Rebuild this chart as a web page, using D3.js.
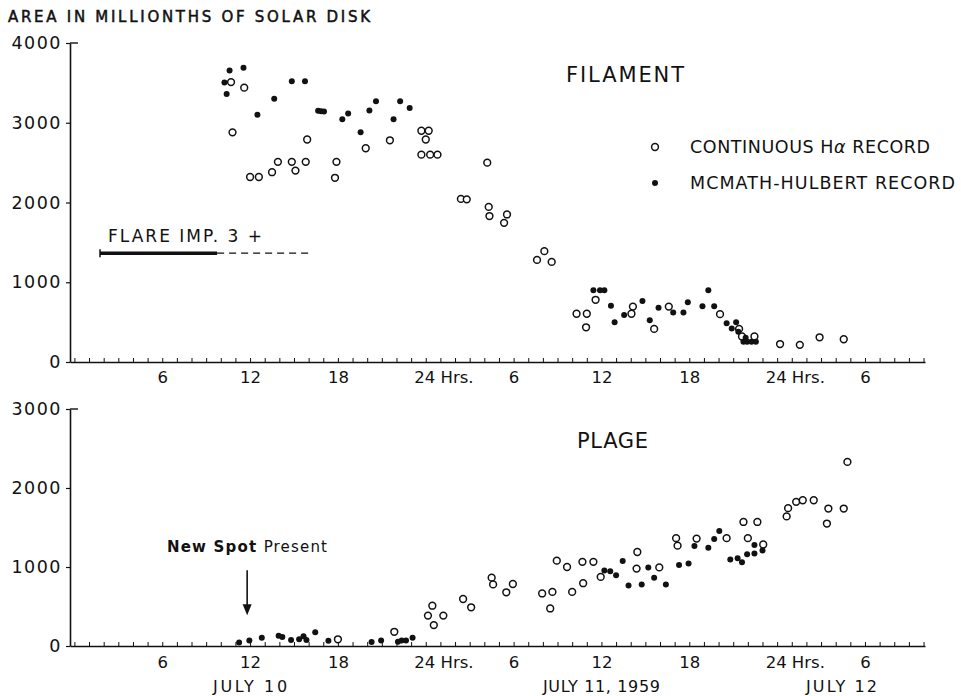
<!DOCTYPE html>
<html>
<head>
<meta charset="utf-8">
<script src="https://cdn.jsdelivr.net/npm/d3@7"></script>
<style>
  body { margin: 0; background: #fff; }
  text { font-family: "DejaVu Sans", sans-serif; fill: #111; }
</style>
</head>
<body>
<svg width="961" height="696"></svg>
<script>
// time axis is hours counted from 0h July 10, 1959
var hourTicks = [6, 12, 18, 24, 30, 36, 42, 48, 54];
var hourLabels = ["6", "12", "18", "24 Hrs.", "6", "12", "18", "24 Hrs.", "6"];
var dayLabels = ["JULY 10", "JULY 11, 1959", "JULY 12"];
var dayCenters = [12, 36, 52.4];
var filamentTicks = [0, 1000, 2000, 3000, 4000];
var plageTicks = [0, 1000, 2000, 3000];

// [hour, area in millionths of solar disk]
var filamentHalpha = [
  [10.7,3510],[10.8,2880],[11.6,3440],[12.0,2320],[12.6,2320],[13.5,2380],[13.9,2510],
  [14.85,2510],[15.1,2400],[15.8,2510],[15.9,2790],[17.8,2310],[17.9,2510],[19.9,2680],
  [21.55,2780],[23.7,2900],[24.2,2900],[24.0,2790],[23.7,2600],[24.3,2600],[24.8,2600],
  [26.4,2045],[26.8,2040],[28.2,2500],[28.3,1945],[28.35,1830],[29.55,1850],[29.35,1745],
  [31.6,1280],[32.1,1390],[32.6,1255],[34.3,605],[35.0,605],[34.95,435],[35.6,780],
  [38.15,695],[38.05,605],[39.6,415],[40.6,695],[44.1,600],[45.4,415],[45.6,320],
  [46.45,320],[48.2,225],[49.55,215],[50.9,310],[52.55,285]
];
var filamentMcMath = [
  [10.25,3505],[10.4,3360],[10.6,3655],[11.55,3690],[12.5,3100],[13.65,3300],[14.85,3520],
  [15.75,3520],[16.65,3150],[16.85,3145],[17.05,3140],[18.3,3045],[18.7,3115],[19.55,2880],
  [20.15,3155],[20.6,3270],[21.8,3045],[22.25,3270],[22.9,3185],
  [35.45,900],[35.9,900],[36.2,900],[36.65,705],[36.9,500],[37.55,590],[38.8,765],
  [39.3,525],[39.9,680],[40.9,620],[41.6,620],[41.9,750],[42.9,700],[43.3,900],[43.7,700],
  [44.55,485],[44.9,420],[45.2,500],[45.35,380],[45.7,255],[45.85,305],[45.95,255],
  [46.25,255],[46.55,255]
];
var plageHalpha = [
  [18.0,85],[21.85,180],[24.15,385],[24.45,510],[24.55,265],[25.2,385],[26.55,595],
  [27.1,490],[28.5,865],[28.6,780],[29.5,680],[29.95,785],[31.95,665],[32.5,475],
  [32.65,685],[32.95,1080],[33.65,1000],[34.0,685],[34.7,1065],[34.75,795],[35.45,1065],
  [35.95,875],[38.45,1190],[38.4,980],[39.95,995],[41.1,1365],[41.2,1270],[42.5,1360],
  [44.55,1365],[45.7,1570],[46.65,1570],[46.0,1365],[47.05,1285],[48.65,1640],[48.75,1745],
  [49.3,1825],[49.75,1845],[50.5,1845],[51.5,1740],[52.55,1740],[51.4,1550],[52.8,2330]
];
var plageMcMath = [
  [11.25,45],[11.95,70],[12.8,105],[13.95,130],[14.2,115],[14.8,75],[15.35,85],[15.65,125],
  [15.85,75],[16.45,175],[17.35,65],[20.3,50],[20.95,70],[22.1,55],[22.35,70],[22.65,70],
  [23.1,105],[36.2,955],[36.6,945],[37.0,895],[37.45,1075],[37.85,765],[38.75,780],
  [39.2,995],[39.6,865],[40.4,780],[41.3,1025],[41.95,1045],[42.35,1265],[43.3,1245],
  [43.7,1355],[44.05,1455],[44.8,1095],[45.3,1110],[45.6,1060],[45.95,1160],[46.45,1170],
  [46.45,1280],[47.0,1210]
];

// annotations
var flareSolid = [1.75, 9.75];
var flareDashed = [9.75, 16.3];
var flareLevel = 1365;
var newSpotHour = 11.8;
var newSpotArrow = [960, 390];

var svg = d3.select("svg");

var x = d3.scaleLinear().domain([-0.3, 58.1]).range([70, 925]);
var yF = d3.scaleLinear().domain([0, 4000]).range([362, 43]);
var yP = d3.scaleLinear().domain([0, 3000]).range([646, 409]);

function drawPanel(y, yTicks, openPts, filledPts, labelPad) {
  var base = y.range()[0];

  // hourly ticks + axis line
  var tg = svg.append("g")
    .attr("transform", "translate(0," + base + ")")
    .call(d3.axisBottom(x).tickValues(d3.range(0, 59)).tickSize(-4).tickSizeOuter(0).tickFormat(""));
  tg.select(".domain").attr("stroke", "#111").attr("stroke-width", 1.6);
  tg.selectAll(".tick line").attr("stroke", "#111").attr("stroke-width", 1);

  // hour labels
  var lg = svg.append("g")
    .attr("transform", "translate(0," + base + ")")
    .call(d3.axisBottom(x).tickValues(hourTicks).tickSize(0).tickPadding(labelPad)
      .tickFormat(function(d, i) { return hourLabels[i]; }));
  lg.select(".domain").remove();
  lg.selectAll("text")
    .attr("font-size", 16.5)
    .attr("font-family", "DejaVu Sans")
    .attr("fill", "#111")
    .each(function(d, i) {
      if (hourLabels[i].indexOf("Hrs") >= 0) {
        d3.select(this).attr("text-anchor", "start").attr("x", -12);
      }
    });

  // y axis
  var yg = svg.append("g")
    .attr("transform", "translate(" + x.range()[0] + ",0)")
    .call(d3.axisLeft(y).tickValues(yTicks).tickSize(4).tickPadding(4).tickSizeOuter(0)
      .tickFormat(d3.format("d")));
  yg.select(".domain").attr("stroke", "#111").attr("stroke-width", 1.6);
  yg.selectAll(".tick line").attr("stroke", "#111").attr("stroke-width", 1.2);
  yg.selectAll("text")
    .attr("font-size", 17.5)
    .attr("font-family", "DejaVu Sans")
    .attr("fill", "#111")
    .attr("letter-spacing", 1.5);
  var top = y.domain()[1];
  svg.append("line")
    .attr("x1", x.range()[0]).attr("x2", x.range()[0] + 8)
    .attr("y1", y(top)).attr("y2", y(top))
    .attr("stroke", "#111").attr("stroke-width", 1.4);

  // points
  var pg = svg.append("g");
  pg.selectAll("circle.open")
    .data(openPts)
    .enter()
    .append("circle").attr("class", "open")
    .attr("cx", function(d) { return x(d[0]); })
    .attr("cy", function(d) { return y(d[1]); })
    .attr("r", 3.4)
    .attr("fill", "#fff")
    .attr("stroke", "#111")
    .attr("stroke-width", 1.5);
  pg.selectAll("circle.filled")
    .data(filledPts)
    .enter()
    .append("circle").attr("class", "filled")
    .attr("cx", function(d) { return x(d[0]); })
    .attr("cy", function(d) { return y(d[1]); })
    .attr("r", 3)
    .attr("fill", "#111");
}

drawPanel(yF, filamentTicks, filamentHalpha, filamentMcMath, 9);
drawPanel(yP, plageTicks, plageHalpha, plageMcMath, 10);

// title
svg.append("text")
  .attr("x", 8).attr("y", 22)
  .attr("font-size", 15)
  .attr("stroke", "#111").attr("stroke-width", 0.5)
  .attr("textLength", 362).attr("lengthAdjust", "spacing")
  .text("AREA IN MILLIONTHS OF SOLAR DISK");

// panel names
svg.append("text")
  .attr("x", 566).attr("y", 82)
  .attr("font-size", 21)
  .attr("textLength", 118).attr("lengthAdjust", "spacing")
  .text("FILAMENT");
svg.append("text")
  .attr("x", 577).attr("y", 448)
  .attr("font-size", 21)
  .attr("textLength", 71).attr("lengthAdjust", "spacing")
  .text("PLAGE");

// legend
svg.append("circle")
  .attr("cx", 655).attr("cy", 147).attr("r", 3.4)
  .attr("fill", "#fff").attr("stroke", "#111").attr("stroke-width", 1.5);
svg.append("circle")
  .attr("cx", 655).attr("cy", 183).attr("r", 3)
  .attr("fill", "#111");
var lt = svg.append("text")
  .attr("x", 690).attr("y", 153)
  .attr("font-size", 17.5)
  .attr("textLength", 240).attr("lengthAdjust", "spacing");
lt.append("tspan").text("CONTINUOUS H");
lt.append("tspan").attr("font-style", "italic").text("α");
lt.append("tspan").text(" RECORD");
svg.append("text")
  .attr("x", 690).attr("y", 189)
  .attr("font-size", 17.5)
  .attr("textLength", 265).attr("lengthAdjust", "spacing")
  .text("MCMATH-HULBERT RECORD");

// flare annotation
svg.append("text")
  .attr("x", 108).attr("y", 242)
  .attr("font-size", 17)
  .attr("textLength", 154).attr("lengthAdjust", "spacing")
  .text("FLARE IMP. 3 +");
svg.append("line")
  .attr("x1", x(flareSolid[0])).attr("x2", x(flareSolid[1]))
  .attr("y1", yF(flareLevel)).attr("y2", yF(flareLevel))
  .attr("stroke", "#111").attr("stroke-width", 3.5);
svg.append("line")
  .attr("x1", x(flareSolid[0])).attr("x2", x(flareSolid[0]))
  .attr("y1", yF(flareLevel) - 4).attr("y2", yF(flareLevel) + 4)
  .attr("stroke", "#111").attr("stroke-width", 1.5);
svg.append("line")
  .attr("x1", x(flareDashed[0])).attr("x2", x(flareDashed[1]))
  .attr("y1", yF(flareLevel)).attr("y2", yF(flareLevel))
  .attr("stroke", "#111").attr("stroke-width", 1.2)
  .attr("stroke-dasharray", "7,5");

// new spot annotation
var ns = svg.append("text")
  .attr("x", 167).attr("y", 552)
  .attr("font-size", 15)
  .attr("textLength", 160).attr("lengthAdjust", "spacing");
ns.append("tspan").attr("font-weight", "bold").text("New Spot ");
ns.append("tspan").text(" Present");
svg.append("line")
  .attr("x1", x(newSpotHour)).attr("x2", x(newSpotHour))
  .attr("y1", yP(newSpotArrow[0])).attr("y2", yP(newSpotArrow[1]) - 8)
  .attr("stroke", "#111").attr("stroke-width", 1.6);
var ax = x(newSpotHour), ay = yP(newSpotArrow[1]);
svg.append("path")
  .attr("d", "M" + (ax - 4.5) + "," + (ay - 11) + "L" + (ax + 4.5) + "," + (ay - 11) + "L" + ax + "," + ay + "Z")
  .attr("fill", "#111");

// day labels
var dayWidths = [74, 117, 71];
svg.selectAll("text.day")
  .data(dayLabels)
  .enter()
  .append("text").attr("class", "day")
  .attr("x", function(d, i) { return x(dayCenters[i]) - dayWidths[i] / 2; })
  .attr("y", 692)
  .attr("font-size", 16)
  .attr("textLength", function(d, i) { return dayWidths[i]; })
  .attr("lengthAdjust", "spacing")
  .text(function(d) { return d; });
</script>
</body>
</html>
